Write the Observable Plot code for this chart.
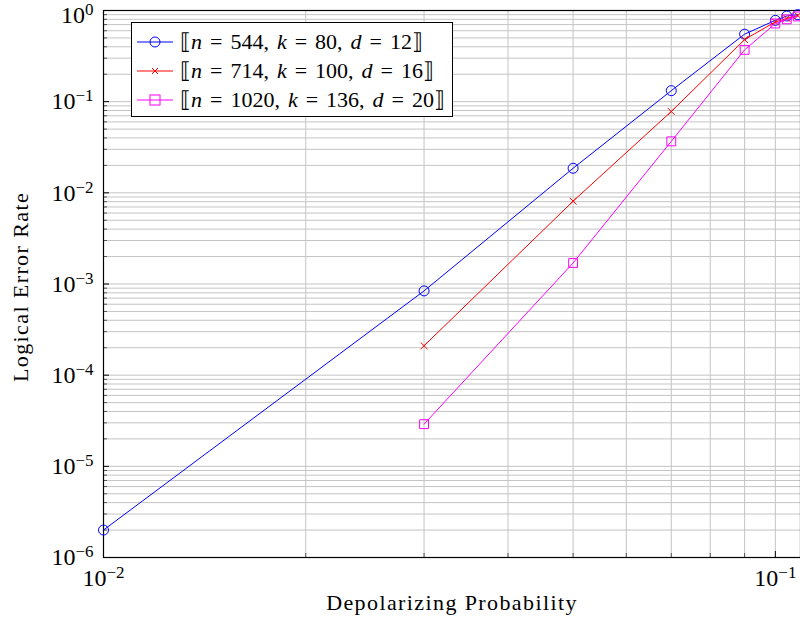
<!DOCTYPE html>
<html>
<head>
<meta charset="utf-8">
<script src="https://cdn.jsdelivr.net/npm/d3@7"></script>
<script src="https://cdn.jsdelivr.net/npm/@observablehq/plot@0.6"></script>
<style>
  html, body { margin: 0; padding: 0; background: white; }
  #wrap { position: relative; width: 800px; height: 629px; overflow: hidden; }
  #legend { position: absolute; left: 131px; top: 22px; width: 322px; height: 95px;
    border: 1px solid #000; background: white; box-sizing: border-box;
    font-family: "Liberation Serif", serif; font-size: 22px; padding-top: 4px; }
  .row { display: flex; align-items: center; height: 29px; white-space: nowrap; }
  .row svg { margin-left: 5px; margin-right: 7px; flex: none; }
  .row span { word-spacing: 2.5px; }
  .row i { font-style: italic; }
</style>
</head>
<body>
<div id="wrap"><div id="legend"></div></div>
<script>
// ---- data ----
const probs = [0.01, 0.03, 0.05, 0.07, 0.09, 0.1, 0.104, 0.108];
const seriesNames = ["n544", "n714", "n1020"];
const errBlue = [2.0e-6, 8.4e-4, 0.0186, 0.132, 0.55, 0.78, 0.87, 0.90];          // n=544
const errRed = [null, 2.1e-4, 0.0081, 0.078, 0.48, 0.75, 0.82, 0.88];             // n=714
const errMagenta = [null, 2.9e-5, 0.0017, 0.0367, 0.37, 0.72, 0.80, 0.86];        // n=1020
const legendLabels = [
  ["544", "80", "12"],
  ["714", "100", "16"],
  ["1020", "136", "20"]
];
const xMajor = [0.01, 0.1];
const xMinor = [0.02, 0.03, 0.04, 0.05, 0.06, 0.07, 0.08, 0.09];
const yMajor = [1e-6, 1e-5, 1e-4, 1e-3, 1e-2, 1e-1, 1];
const yMinorMult = [2, 3, 4, 5, 6, 7, 8, 9];

const yMinor = yMajor.slice(0, -1).flatMap(b => yMinorMult.map(m => m * b));
const colors = ["#0000ff", "#ff0000", "#ff00ff"];
const symbols = ["circle", "times", "square"];
const allSeries = [errBlue, errRed, errMagenta];
const data = allSeries.flatMap((s, i) => s.map((v, j) => ({p: probs[j], e: v, s: seriesNames[i]})).filter(d => d.e != null));

const expFmt = d => "10^" + Math.round(Math.log10(d));
const font = "Liberation Serif, serif";

const marks = [
  Plot.gridX([...xMajor, ...xMinor], {stroke: "#c4c4c4", strokeOpacity: 1, strokeWidth: 1}),
  Plot.gridY([...yMajor, ...yMinor], {stroke: "#c4c4c4", strokeOpacity: 1, strokeWidth: 1}),
  Plot.axisY(yMinor, {tickSize: -4, tickFormat: () => "", stroke: "#555", label: null}),
  Plot.axisX(xMinor, {tickSize: -4, tickFormat: () => "", stroke: "#555", label: null}),
  Plot.axisY(yMajor, {tickSize: -6, tickPadding: 16, tickFormat: expFmt, label: null, fontSize: 24}),
  Plot.axisX(xMajor, {tickSize: -6, tickPadding: 17, tickFormat: expFmt, label: null, fontSize: 24}),
  Plot.frame({stroke: "#000", strokeWidth: 1.2}),
];
seriesNames.forEach((name, i) => {
  const sd = data.filter(d => d.s === name);
  marks.push(Plot.line(sd, {x: "p", y: "e", stroke: colors[i], strokeWidth: 1}));
  marks.push(Plot.dot(sd, {x: "p", y: "e", stroke: colors[i], fill: "none", symbol: symbols[i],
    r: i === 1 ? 3.2 : 5, strokeWidth: 1}));
});
marks.push(Plot.text(["Depolarizing Probability"], {frameAnchor: "bottom", dy: 52, fontSize: 22, fill: "#000", className: "axlabel"}));
marks.push(Plot.text(["Logical Error Rate"], {frameAnchor: "left", dx: -83, dy: 3, rotate: -90, textAnchor: "middle", fontSize: 22, fill: "#000", className: "axlabel"}));

const chart = Plot.plot({
  width: 800, height: 629,
  marginLeft: 103, marginTop: 10, marginBottom: 72, marginRight: 0,
  x: {type: "log", domain: [0.01, 0.109]},
  y: {type: "log", domain: [1e-6, 1]},
  style: {fontFamily: font, fontSize: "20px", background: "white", color: "#000", overflow: "visible"},
  marks
});

// superscript exponents
d3.select(chart).selectAll("text").each(function() {
  const t = this.textContent;
  const m = /^10\^(-?\d+)$/.exec(t);
  if (m) {
    const sel = d3.select(this);
    sel.attr("font-size", 24).style("font-size", "24px").attr("font-family", font);
    sel.text("");
    sel.append("tspan").text("10");
    sel.append("tspan").attr("dy", "-8").style("font-size", "17px").text(m[1].replace("-", "\u2212"));
    if (m[1] === "0") sel.attr("transform", (sel.attr("transform") || "") + " translate(0,5)");
  }
});
d3.select(chart).selectAll(".axlabel text").attr("letter-spacing", "1.4px");

document.getElementById("wrap").prepend(chart);

// legend
const leg = document.getElementById("legend");
legendLabels.forEach((lab, i) => {
  const row = document.createElement("div");
  row.className = "row";
  let mk;
  if (symbols[i] === "circle") mk = `<circle cx="18" cy="8" r="5" fill="none" stroke="${colors[i]}"/>`;
  else if (symbols[i] === "times") mk = `<path d="M15,5L21,11M21,5L15,11" stroke="${colors[i]}"/>`;
  else mk = `<rect x="13" y="3" width="10" height="10" fill="none" stroke="${colors[i]}"/>`;
  row.innerHTML = `<svg width="36" height="16"><line x1="0" x2="36" y1="8" y2="8" stroke="${colors[i]}"/>${mk}</svg>` +
    `<span>\u27E6<i>n</i> = ${lab[0]}, <i>k</i> = ${lab[1]}, <i>d</i> = ${lab[2]}\u27E7</span>`;
  leg.appendChild(row);
});
</script>
</body>
</html>
